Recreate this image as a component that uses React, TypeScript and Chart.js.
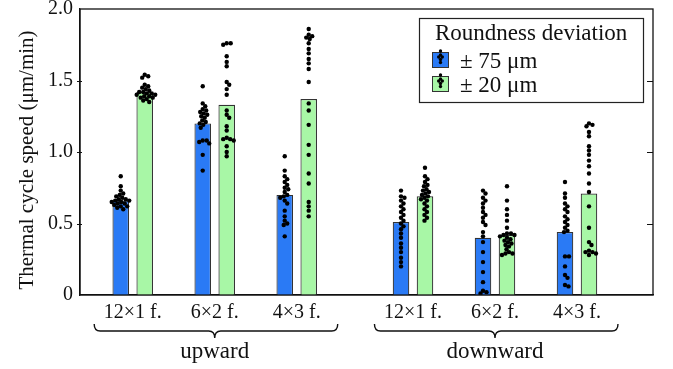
import { useEffect, useRef } from 'react';
import { Chart, registerables } from 'chart.js';
Chart.register(...registerables);

// ---- data ----
const groups = ['upward', 'downward'];
const categories = ['12×1 f.', '6×2 f.', '4×3 f.', '12×1 f.', '6×2 f.', '4×3 f.'];
const categoryGroup = [0, 0, 0, 1, 1, 1];
const seriesLabels = ['± 75 μm', '± 20 μm'];
const legendTitle = 'Roundness deviation';
const yAxisTitle = 'Thermal cycle speed (μm/min)';
const yTicks = [0, 0.5, 1.0, 1.5, 2.0];

const barBlue = [0.66, 1.20, 0.70, 0.51, 0.40, 0.44];
const barGreen = [1.42, 1.33, 1.37, 0.69, 0.42, 0.71];

const dotsBlue = [
  [0.83, 0.76, 0.73, 0.71, 0.70, 0.69, 0.68, 0.67, 0.67, 0.66, 0.66, 0.65, 0.65, 0.64, 0.64, 0.63, 0.62, 0.62, 0.61, 0.60],
  [1.46, 1.34, 1.32, 1.30, 1.29, 1.28, 1.27, 1.26, 1.25, 1.24, 1.22, 1.21, 1.20, 1.19, 1.17, 1.08, 1.08, 1.07, 1.06, 0.98, 0.87],
  [0.97, 0.87, 0.83, 0.81, 0.79, 0.77, 0.75, 0.74, 0.72, 0.70, 0.69, 0.68, 0.66, 0.64, 0.59, 0.55, 0.52, 0.50, 0.49, 0.41],
  [0.73, 0.69, 0.68, 0.66, 0.64, 0.62, 0.60, 0.58, 0.56, 0.54, 0.52, 0.50, 0.48, 0.46, 0.43, 0.40, 0.36, 0.33, 0.30, 0.26, 0.23, 0.20],
  [0.73, 0.71, 0.68, 0.66, 0.64, 0.61, 0.58, 0.56, 0.54, 0.51, 0.49, 0.44, 0.41, 0.37, 0.30, 0.23, 0.16, 0.09, 0.03, 0.02, 0.01],
  [0.79, 0.71, 0.68, 0.64, 0.62, 0.60, 0.58, 0.55, 0.53, 0.51, 0.49, 0.47, 0.45, 0.44, 0.27, 0.27, 0.20, 0.14, 0.12, 0.07, 0.06],
];
const dotsGreen = [
  [1.54, 1.53, 1.52, 1.47, 1.46, 1.45, 1.44, 1.43, 1.42, 1.42, 1.41, 1.41, 1.40, 1.40, 1.39, 1.39, 1.38, 1.38, 1.37, 1.36, 1.35],
  [1.76, 1.76, 1.75, 1.67, 1.63, 1.60, 1.49, 1.47, 1.44, 1.40, 1.29, 1.26, 1.24, 1.18, 1.15, 1.10, 1.09, 1.09, 1.08, 1.04, 1.00, 0.97],
  [1.86, 1.82, 1.81, 1.80, 1.79, 1.76, 1.72, 1.69, 1.65, 1.62, 1.58, 1.49, 1.34, 1.29, 1.19, 1.05, 0.98, 0.85, 0.78, 0.65, 0.62, 0.59, 0.55],
  [0.89, 0.83, 0.81, 0.79, 0.77, 0.76, 0.74, 0.73, 0.72, 0.71, 0.70, 0.69, 0.68, 0.67, 0.66, 0.64, 0.62, 0.60, 0.58, 0.56, 0.54, 0.52],
  [0.76, 0.66, 0.60, 0.56, 0.52, 0.47, 0.43, 0.43, 0.42, 0.42, 0.41, 0.40, 0.39, 0.38, 0.37, 0.36, 0.35, 0.34, 0.32, 0.30, 0.29, 0.29, 0.28],
  [1.20, 1.19, 1.18, 1.14, 1.11, 1.04, 1.01, 0.98, 0.94, 0.90, 0.85, 0.78, 0.72, 0.62, 0.47, 0.37, 0.35, 0.31, 0.30, 0.30, 0.29, 0.28],
];

// ---- layout / style ----
const GROUP_GAP = 0.418;
const positions = categories.map((_, i) => i + categoryGroup[i] * GROUP_GAP);
const X_MIN = -0.643;
const X_MAX = 6.345;
const BLUE = '#2a7af5';
const GREEN = '#a8f7a6';
const EDGE = '#333333';
const INK = '#111111';
const FONT = '"Liberation Serif", "Times New Roman", serif';
const DOT_R = 2.2;
const DOT_SEP = 3.6;

const framePlugin = {
  id: 'frameDecor',
  afterDraw(chart: any) {
    const { ctx, chartArea: a, scales } = chart;
    const x = scales.x, y = scales.y;
    ctx.save();
    ctx.strokeStyle = INK;
    ctx.lineWidth = 1.3;
    ctx.strokeRect(a.left, a.top, a.right - a.left, a.bottom - a.top);
    ctx.lineWidth = 1;
    yTicks.forEach((t) => {
      if (t <= 0 || t >= 2) return;
      const py = Math.round(y.getPixelForValue(t)) + 0.5;
      ctx.beginPath();
      ctx.moveTo(a.right - 6, py); ctx.lineTo(a.right, py);
      ctx.moveTo(a.left - 3, py); ctx.lineTo(a.left + 2, py);
      ctx.stroke();
    });
    // y axis title
    ctx.save();
    ctx.translate(27, (a.top + a.bottom) / 2 + 8);
    ctx.rotate(-Math.PI / 2);
    ctx.fillStyle = INK;
    ctx.font = `21px ${FONT}`;
    ctx.textAlign = 'center';
    ctx.textBaseline = 'middle';
    ctx.fillText(yAxisTitle, 0, 0);
    ctx.restore();
    // braces + group labels
    const yTop = a.bottom + 29, yMid = a.bottom + 36, yTip = a.bottom + 43;
    ctx.lineWidth = 1.4;
    groups.forEach((g, gi) => {
      const idx = categoryGroup.map((c, i) => (c === gi ? i : -1)).filter((i) => i >= 0);
      const p0 = positions[idx[0]], p1 = positions[idx[idx.length - 1]];
      const x1 = x.getPixelForValue(p0 - 0.47);
      const x2 = x.getPixelForValue(p1 + 0.5);
      const xm = x.getPixelForValue((p0 + p1) / 2);
      const r = 6;
      ctx.beginPath();
      ctx.moveTo(x1, yTop);
      ctx.quadraticCurveTo(x1, yMid, x1 + r, yMid);
      ctx.lineTo(xm - r, yMid);
      ctx.quadraticCurveTo(xm, yMid, xm, yTip);
      ctx.quadraticCurveTo(xm, yMid, xm + r, yMid);
      ctx.lineTo(x2 - r, yMid);
      ctx.quadraticCurveTo(x2, yMid, x2, yTop);
      ctx.stroke();
      ctx.fillStyle = INK;
      ctx.font = `23px ${FONT}`;
      ctx.textAlign = 'center';
      ctx.textBaseline = 'middle';
      ctx.fillText(g, xm, a.bottom + 57);
    });
    ctx.restore();
  },
};

const legendPlugin = {
  id: 'boxLegend',
  afterDraw(chart: any) {
    const { ctx, chartArea: a } = chart;
    const w = 224, h = 84;
    const x0 = a.right - 10 - w, y0 = a.top + 9;
    ctx.save();
    ctx.fillStyle = '#ffffff';
    ctx.fillRect(x0, y0, w, h);
    ctx.strokeStyle = '#222';
    ctx.lineWidth = 1.2;
    ctx.strokeRect(x0 + 0.5, y0 + 0.5, w, h);
    ctx.fillStyle = INK;
    ctx.font = `23px ${FONT}`;
    ctx.textAlign = 'left';
    ctx.textBaseline = 'middle';
    ctx.fillText(legendTitle, x0 + 16, y0 + 16);
    const colors = [BLUE, GREEN];
    seriesLabels.forEach((lab, i) => {
      const cy = y0 + 42 + i * 24;
      const sx = x0 + 13, sw = 17, sh = 16;
      ctx.fillStyle = colors[i];
      ctx.fillRect(sx, cy - sh / 2, sw, sh);
      ctx.strokeStyle = EDGE;
      ctx.lineWidth = 1;
      ctx.strokeRect(sx + 0.5, cy - sh / 2 + 0.5, sw - 1, sh - 1);
      ctx.fillStyle = '#000';
      const cx = sx + sw / 2;
      const glyph = [[0, -9], [0, -5], [-1.8, -3], [1.8, -3], [0, -0.5], [0, 2.5]];
      glyph.forEach(([dx, dy]) => {
        ctx.beginPath();
        ctx.arc(cx + dx, cy + dy, 1.7, 0, Math.PI * 2);
        ctx.fill();
      });
      ctx.fillStyle = INK;
      ctx.fillText(lab, x0 + 41, cy + 2);
    });
    ctx.restore();
  },
};

function swarm(chart: any) {
  const xs = chart.scales.x, ys = chart.scales.y;
  [dotsBlue, dotsGreen].forEach((dots, s) => {
    const barMeta = chart.getDatasetMeta(s);
    const pts: any[] = [];
    dots.forEach((vals, i) => {
      const cx = barMeta.data[i].x;
      const placed: { x: number; y: number }[] = [];
      const sorted = [...vals].sort((a, b) => b - a);
      sorted.forEach((v) => {
        const py = ys.getPixelForValue(v);
        let off = 0;
        for (let k = 0; k < 80; k++) {
          const cand = k === 0 ? 0 : (k % 2 ? 1 : -1) * Math.ceil(k / 2) * 0.5;
          const ok = placed.every((p) => Math.hypot(p.x - (cx + cand), p.y - py) >= DOT_SEP);
          if (ok) { off = cand; break; }
        }
        placed.push({ x: cx + off, y: py });
        pts.push({ x: xs.getValueForPixel(cx + off), y: v });
      });
    });
    chart.data.datasets[2 + s].data = pts;
  });
  chart.update();
}

export default function App() {
  const ref = useRef<HTMLCanvasElement | null>(null);
  useEffect(() => {
    if (!ref.current) return;
    const tickFont = { family: FONT, size: 20 };
    const chart = new Chart(ref.current, {
      type: 'bar',
      data: {
        datasets: [
          {
            type: 'bar', label: seriesLabels[0], order: 1,
            data: barBlue.map((v, i) => ({ x: positions[i], y: v })),
            backgroundColor: BLUE, borderColor: EDGE, borderWidth: 1.2,
            categoryPercentage: 0.585, barPercentage: 0.69,
          },
          {
            type: 'bar', label: seriesLabels[1], order: 1,
            data: barGreen.map((v, i) => ({ x: positions[i], y: v })),
            backgroundColor: GREEN, borderColor: EDGE, borderWidth: 1.2,
            categoryPercentage: 0.585, barPercentage: 0.69,
          },
          {
            type: 'scatter', label: 'dots1', order: 0, data: [],
            pointRadius: DOT_R, backgroundColor: '#000', borderWidth: 0,
          },
          {
            type: 'scatter', label: 'dots2', order: 0, data: [],
            pointRadius: DOT_R, backgroundColor: '#000', borderWidth: 0,
          },
        ] as any,
      },
      options: {
        animation: false,
        responsive: true,
        maintainAspectRatio: false,
        layout: { padding: { left: 0, top: 9, right: 20, bottom: 0 } },
        plugins: { legend: { display: false }, tooltip: { enabled: false } },
        scales: {
          x: {
            type: 'linear', min: X_MIN, max: X_MAX, offset: false,
            afterBuildTicks: (s: any) => { s.ticks = positions.map((v) => ({ value: v })); },
            afterFit: (s: any) => { s.height = 74; s.paddingLeft = 0; s.paddingRight = 0; },
            ticks: {
              callback: (_v: any, i: number) => categories[i] ?? '',
              autoSkip: false, maxRotation: 0, padding: 6, font: tickFont, color: INK,
            },
            grid: { display: false, drawTicks: false },
            border: { display: true, color: INK, width: 1.3 },
          },
          y: {
            type: 'linear', min: 0, max: 2,
            afterBuildTicks: (s: any) => { s.ticks = yTicks.map((v) => ({ value: v })); },
            afterFit: (s: any) => { s.width = 80; s.paddingTop = 0; s.paddingBottom = 0; },
            ticks: {
              callback: (v: any) => (v === 0 ? '0' : Number(v).toFixed(1)),
              padding: 7, font: tickFont, color: INK,
            },
            grid: { display: false, drawTicks: false },
            border: { display: true, color: INK, width: 1.3 },
            title: { display: false },
          },
        },
      } as any,
      plugins: [framePlugin, legendPlugin],
    });
    swarm(chart);
    return () => chart.destroy();
  }, []);
  return (
    <div style={{ position: 'fixed', left: 0, top: 0, width: 673, height: 369, background: '#fff' }}>
      <canvas ref={ref} />
    </div>
  );
}
